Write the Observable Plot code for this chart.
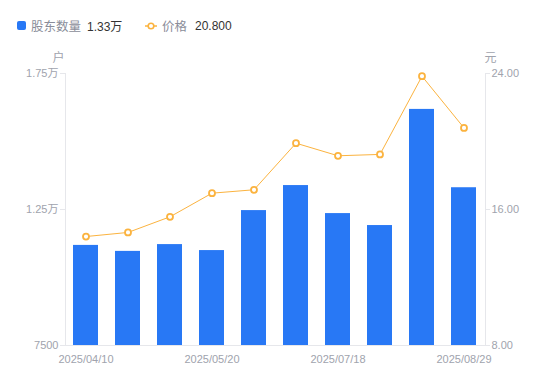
<!DOCTYPE html>
<html><head><meta charset="utf-8">
<script src="https://cdn.jsdelivr.net/npm/d3@7"></script>
<script src="https://cdn.jsdelivr.net/npm/@observablehq/plot@0.6"></script>
<style>
body{margin:0;background:#fff;}
#wrap{position:relative;width:550px;height:381px;font-family:"Liberation Sans","Noto Sans CJK SC",sans-serif;}
#legend{position:absolute;left:0;top:0;width:550px;height:40px;font-size:12px;}
#legend .item{position:absolute;top:16px;display:flex;align-items:center;white-space:nowrap;}
#legend .lab{color:#8a8d99;font-family:"Noto Sans CJK SC",sans-serif;font-size:12.5px;}
#legend .val{color:#333;margin-left:6px;}
svg{position:absolute;left:0;top:0;}
</style></head>
<body><div id="wrap"><div id="legend"></div></div>
<script>
const dates = ["2025/04/10","2025/04/18","2025/04/30","2025/05/20","2025/06/10","2025/06/30","2025/07/18","2025/07/31","2025/08/20","2025/08/29"];
const holders = [11180, 10960, 11210, 10990, 12460, 13380, 12350, 11910, 16180, 13300];
const prices = [14.41, 14.65, 15.57, 16.96, 17.16, 19.90, 19.16, 19.24, 23.84, 20.80];
const leftTicks = [7500, 12500, 17500];
const rightTicks = [8, 16, 24];
const shownDates = ["2025/04/10","2025/05/20","2025/07/18","2025/08/29"];

const blue = "#2878f5", orange = "#fbb33f";
const yMin = 7500, yMax = 17500, pMin = 8, pMax = 24;
const toLeft = p => yMin + (p - pMin) / (pMax - pMin) * (yMax - yMin);
const toRight = v => pMin + (v - yMin) / (yMax - yMin) * (pMax - pMin);

const rows = dates.map((d, i) => ({date: d, holders: holders[i], price: prices[i], priceL: toLeft(prices[i])}));

const axisColor = "#e6e7eb";
const textColor = "#a0a3ad";

const chart = Plot.plot({
  width: 550, height: 381,
  marginTop: 73, marginBottom: 36, marginLeft: 65, marginRight: 65,
  style: {fontFamily: "Liberation Sans, Noto Sans CJK SC, sans-serif", fontSize: "11px", color: textColor, background: "transparent"},
  x: {type: "band", domain: dates, paddingInner: 0.4, paddingOuter: 0.2, label: null},
  y: {domain: [yMin, yMax], label: null},
  marks: [
    Plot.barY(rows, {x: "date", y1: yMin, y2: "holders", fill: blue}),
    Plot.ruleY([yMin], {stroke: axisColor, strokeWidth: 1}),
    Plot.frame({anchor: "left", stroke: axisColor}),
    Plot.frame({anchor: "right", stroke: axisColor}),
    Plot.axisY({anchor: "left", ticks: leftTicks, tickSize: 5, tickPadding: 2, stroke: axisColor, fill: textColor,
      tickFormat: v => v < 10000 ? String(v) : (v / 10000).toFixed(2) + "万", label: null}),
    Plot.axisY({anchor: "right", ticks: rightTicks.map(toLeft), tickSize: 4, tickPadding: 2, stroke: axisColor, fill: textColor,
      tickFormat: v => toRight(v).toFixed(2), label: null}),
    Plot.text(["户"], {frameAnchor: "top-left", dx: -7, dy: -20, fill: textColor, fontSize: 12, textAnchor: "middle", fontFamily: "Noto Sans CJK SC"}),
    Plot.text(["元"], {frameAnchor: "top-right", dx: 5, dy: -20, fill: textColor, fontSize: 12, textAnchor: "middle", fontFamily: "Noto Sans CJK SC"}),
    Plot.axisX({ticks: shownDates, tickSize: 0, tickPadding: 10, fill: textColor, label: null}),
    Plot.lineY(rows, {x: "date", y: "priceL", stroke: orange, strokeWidth: 1}),
    Plot.dot(rows, {x: "date", y: "priceL", r: 3, stroke: orange, strokeWidth: 1.8, fill: "#fff"})
  ]
});
document.getElementById("wrap").appendChild(chart);

const legend = document.getElementById("legend");
legend.innerHTML = `
<div class="item" style="left:17px"><span style="display:inline-block;width:9px;height:9px;background:${blue};border-radius:2px;margin-right:5px"></span><span class="lab">股东数量</span><span class="val">${(holders[holders.length-1]/10000).toFixed(2)}万</span></div>
<div class="item" style="left:145px"><svg width="12" height="10" style="position:static;margin-right:5px"><line x1="0" y1="5" x2="12" y2="5" stroke="${orange}" stroke-width="1.5"/><circle cx="6" cy="5" r="2.8" fill="#fff" stroke="${orange}" stroke-width="1.6"/></svg><span class="lab">价格</span><span class="val" style="margin-left:8px">${prices[prices.length-1].toFixed(3)}</span></div>`;
</script></body></html>
